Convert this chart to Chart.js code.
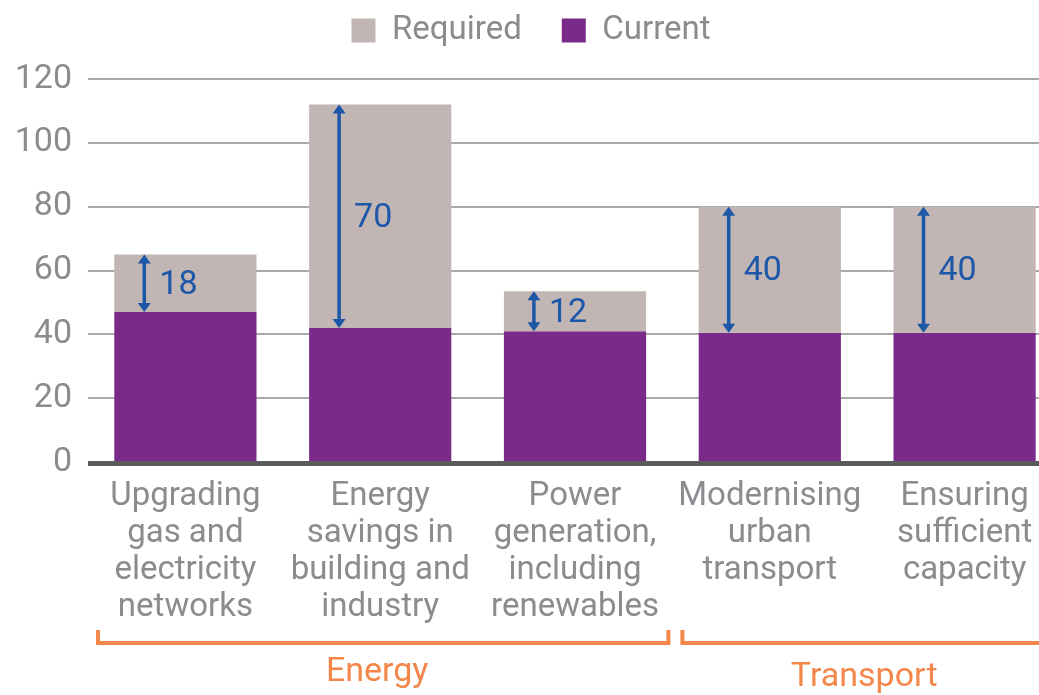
<!DOCTYPE html>
<html>
<head>
<meta charset="utf-8">
<script src="https://cdn.jsdelivr.net/npm/chart.js@4.4.1/dist/chart.umd.min.js"></script>
<style>
  html, body { margin: 0; padding: 0; background: #ffffff; overflow: hidden; }
  #wrap { position: relative; width: 1062px; height: 695px; }
</style>
</head>
<body>
<div id="wrap"><canvas id="chart"></canvas></div>
<script>
// ---- data ----
const categories = [
  ['Upgrading', 'gas and', 'electricity', 'networks'],
  ['Energy', 'savings in', 'building and', 'industry'],
  ['Power', 'generation,', 'including', 'renewables'],
  ['Modernising', 'urban', 'transport'],
  ['Ensuring', 'sufficient', 'capacity']
];
const currentValues  = [47, 42, 41, 40.5, 40.5];
const requiredValues = [65, 112, 53.5, 80, 80];
const gapLabels      = ['18', '70', '12', '40', '40'];
const groupNames  = ['Energy', 'Transport'];
const groupStart  = [0, 3];
const groupEnd    = [2, 4];
const yTicks      = [0, 20, 40, 60, 80, 100, 120];

// ---- styling ----
const FONT = 'Roboto, "Liberation Sans", sans-serif';
const GREY_TEXT = '#8a8c90';
const REQ_COLOR = '#c1b6b3';
const CUR_COLOR = '#7a2a88';
const BLUE = '#1c57a8';
const ORANGE = '#f5864a';

const requiredData = requiredValues.map((v, i) => [currentValues[i], v]);

const annotatePlugin = {
  id: 'annotate',
  afterDatasetsDraw(chart) {
    const ctx = chart.ctx;
    const y = chart.scales.y;
    const area = chart.chartArea;
    // baseline
    const y0 = y.getPixelForValue(0);
    ctx.save();
    ctx.fillStyle = '#5b5b5b';
    ctx.fillRect(area.left, y0 - 1, chart.width - area.left, 5);
    ctx.restore();

    const meta = chart.getDatasetMeta(1);
    meta.data.forEach((bar, i) => {
      const ax = bar.x - bar.width / 2 + 30;
      const yt = y.getPixelForValue(requiredValues[i]);
      const yb = y.getPixelForValue(currentValues[i]);
      ctx.save();
      ctx.strokeStyle = BLUE;
      ctx.fillStyle = BLUE;
      ctx.lineWidth = 3.5;
      const hh = 9, hw = 6.5;
      ctx.beginPath();
      ctx.moveTo(ax, yt + hh - 1);
      ctx.lineTo(ax, yb - hh + 1);
      ctx.stroke();
      ctx.beginPath();
      ctx.moveTo(ax, yt);
      ctx.lineTo(ax - hw, yt + hh);
      ctx.lineTo(ax + hw, yt + hh);
      ctx.closePath();
      ctx.fill();
      ctx.beginPath();
      ctx.moveTo(ax, yb);
      ctx.lineTo(ax - hw, yb - hh);
      ctx.lineTo(ax + hw, yb - hh);
      ctx.closePath();
      ctx.fill();
      ctx.font = '34px ' + FONT;
      ctx.textAlign = 'left';
      ctx.textBaseline = 'middle';
      ctx.fillText(gapLabels[i], ax + 15, (yt + yb) / 2 + 2);
      ctx.restore();
    });
  },
  afterDraw(chart) {
    const ctx = chart.ctx;
    const x = chart.scales.x;
    const catW = x.getPixelForValue(1) - x.getPixelForValue(0);
    const by = x.top + 181;
    ctx.save();
    ctx.strokeStyle = ORANGE;
    ctx.lineWidth = 4;
    ctx.lineCap = 'butt';
    groupNames.forEach((name, g) => {
      const xl = x.getPixelForValue(groupStart[g]) - catW / 2 + 10;
      const xr = x.getPixelForValue(groupEnd[g]) + catW / 2 - 4;
      ctx.beginPath();
      ctx.moveTo(xl, by - 13);
      ctx.lineTo(xl, by);
      ctx.lineTo(xr, by);
      ctx.lineTo(xr, by - 13);
      ctx.stroke();
      ctx.fillStyle = ORANGE;
      ctx.font = '34px ' + FONT;
      ctx.textAlign = 'center';
      ctx.textBaseline = 'middle';
      ctx.fillText(name, (xl + xr) / 2 - 6, by + 29 + g * 5);
    });
    ctx.restore();
  }
};

new Chart(document.getElementById('chart'), {
  type: 'bar',
  data: {
    labels: categories,
    datasets: [
      {
        label: 'Required',
        data: requiredData,
        xAxisID: 'x',
        yAxisID: 'y',
        backgroundColor: REQ_COLOR,
        borderWidth: 0,
        barPercentage: 0.73,
        categoryPercentage: 1.0
      },
      {
        label: 'Current',
        data: currentValues,
        xAxisID: 'x',
        yAxisID: 'y',
        backgroundColor: CUR_COLOR,
        borderWidth: 0,
        barPercentage: 0.73,
        categoryPercentage: 1.0
      }
    ]
  },
  options: {
    responsive: true,
    maintainAspectRatio: false,
    animation: false,
    layout: { padding: { top: -26, left: 0, right: 0, bottom: 0 } },
    plugins: {
      legend: {
        display: true,
        position: 'top',
        align: 'center',
        labels: {
          boxWidth: 24,
          boxHeight: 24,
          padding: 40,
          color: GREY_TEXT,
          font: { family: FONT, size: 33 }
        }
      },
      tooltip: { enabled: false }
    },
    scales: {
      x: {
        stacked: true,
        grid: { display: false, drawTicks: false },
        border: { display: false },
        ticks: {
          color: GREY_TEXT,
          padding: 16,
          maxRotation: 0,
          autoSkip: false,
          font: { family: FONT, size: 33, lineHeight: 1.12 }
        },
        afterFit: (s) => { s.height = 233; }
      },
      y: {
        stacked: false,
        min: 0,
        max: 120,
        afterBuildTicks: (s) => { s.ticks = yTicks.map(v => ({ value: v })); },
        grid: {
          drawTicks: false,
          color: '#a9a9a9',
          lineWidth: 2
        },
        border: { display: false },
        ticks: {
          color: GREY_TEXT,
          padding: 16,
          font: { family: FONT, size: 34 }
        },
        afterFit: (s) => { s.width = 88; }
      },
      spacer: {
        type: 'linear',
        position: 'top',
        display: true,
        grid: { display: false, drawTicks: false },
        border: { display: false },
        ticks: { display: false },
        afterFit: (s) => { s.height = 22; }
      }
    }
  },
  plugins: [annotatePlugin]
});
</script>
</body>
</html>
